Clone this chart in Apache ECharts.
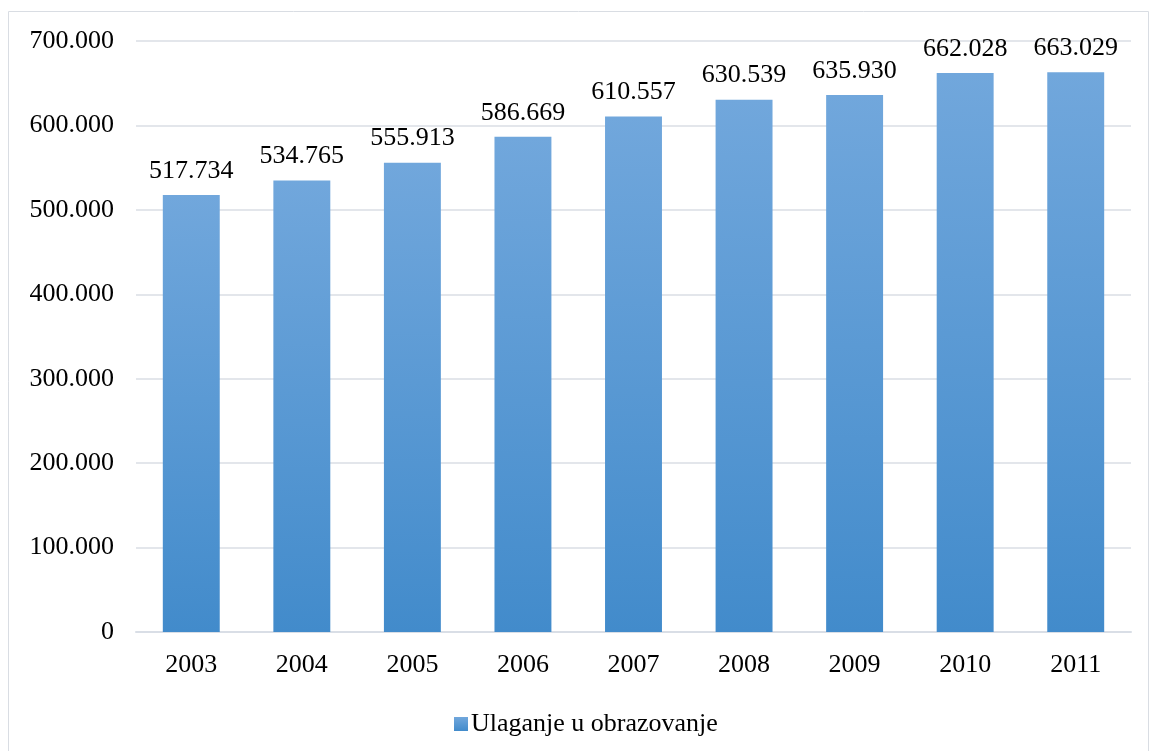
<!DOCTYPE html>
<html>
<head>
<meta charset="utf-8">
<script src="https://cdn.jsdelivr.net/npm/echarts@6/dist/echarts.min.js"></script>
<style>
  html, body { margin: 0; padding: 0; background: #fff; }
  #main { width: 1150px; height: 751px; }
</style>
</head>
<body>
<div id="main"></div>
<script>
var years = ['2003', '2004', '2005', '2006', '2007', '2008', '2009', '2010', '2011'];
var values = [517734, 534765, 555913, 586669, 610557, 630539, 635930, 662028, 663029];
var seriesName = 'Ulaganje u obrazovanje';

var chart = echarts.init(document.getElementById('main'));

function fmt(v) {
  // thousands separator with a dot
  return String(v).replace(/\B(?=(\d{3})+(?!\d))/g, '.');
}

var barColor = new echarts.graphic.LinearGradient(0, 0, 0, 1, [
  { offset: 0, color: '#71a7dc' },
  { offset: 1, color: '#428bcb' }
]);

var option = {
  animation: false,
  textStyle: { fontFamily: 'Liberation Serif' },
  graphic: [{
    type: 'rect',
    shape: { x: 8.5, y: 11.5, width: 1140, height: 745 },
    style: { fill: 'none', stroke: '#d9dde3', lineWidth: 1 },
    z: -1
  }],
  grid: { left: 136, right: 19, top: 41, bottom: 119 },
  legend: {
    top: 706,
    left: 449,
    itemWidth: 14,
    itemHeight: 14,
    itemGap: 10,
    icon: 'rect',
    textStyle: { fontFamily: 'Liberation Serif', fontSize: 26, color: '#000', padding: [0, 0, 0, -2] },
    data: [seriesName]
  },
  xAxis: {
    type: 'category',
    data: years,
    axisTick: { show: false },
    axisLine: { lineStyle: { color: '#d9dee6', width: 2 } },
    axisLabel: { color: '#000', fontSize: 26, margin: 20, fontFamily: 'Liberation Serif' }
  },
  yAxis: {
    type: 'value',
    min: 0,
    max: 700000,
    interval: 100000,
    axisLine: { show: false },
    axisTick: { show: false },
    splitLine: { lineStyle: { color: '#e3e6eb', width: 2 } },
    axisLabel: {
      color: '#000', fontSize: 26, margin: 22, fontFamily: 'Liberation Serif',
      formatter: function (v) { return v === 0 ? '0' : fmt(v / 1000) + '.000'; }
    }
  },
  series: [{
    name: seriesName,
    type: 'bar',
    data: values,
    barWidth: '51.5%',
    itemStyle: { color: barColor },
    label: {
      show: true,
      position: 'top',
      distance: 11,
      color: '#000',
      fontSize: 26,
      fontFamily: 'Liberation Serif',
      formatter: function (p) { return fmt(p.value); }
    }
  }]
};

chart.setOption(option);
</script>
</body>
</html>
